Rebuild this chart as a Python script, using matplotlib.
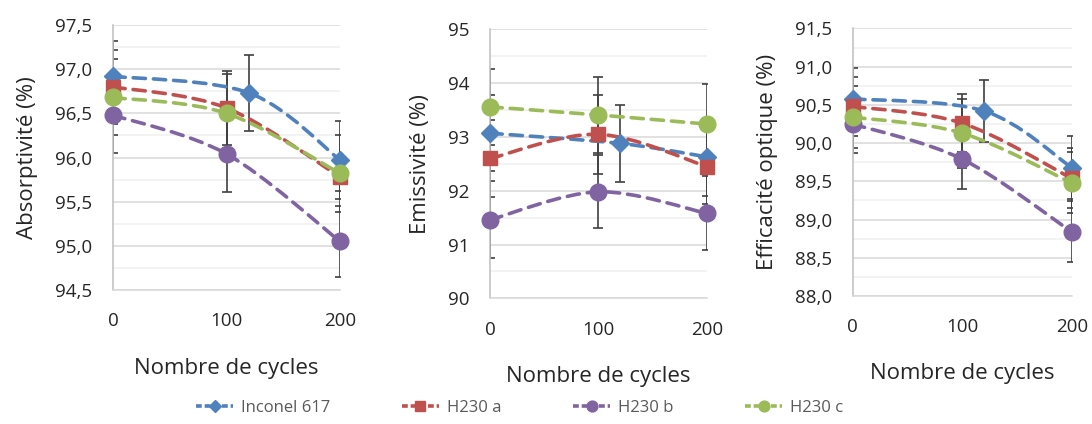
import numpy as np
import matplotlib
matplotlib.use("Agg")
import matplotlib.pyplot as plt
from matplotlib.path import Path
from matplotlib.patches import PathPatch
from matplotlib.lines import Line2D
from matplotlib.ticker import MultipleLocator, FuncFormatter

plt.rcParams["font.family"] = ["Open Sans", "DejaVu Sans"]

# --- Données ---
series = ["Inconel 617", "H230 a", "H230 b", "H230 c"]
x_inconel = [0, 120, 200]
x_h230 = [0, 100, 200]

absorp = {
    "Inconel 617": [96.92, 96.73, 95.97],
    "H230 a": [96.80, 96.56, 95.78],
    "H230 b": [96.48, 96.04, 95.05],
    "H230 c": [96.68, 96.50, 95.82],
}
absorp_err = {
    "Inconel 617": [0.40, 0.43, 0.44],
    "H230 a": [0.42, 0.42, 0.16],
    "H230 b": [0.43, 0.43, 0.40],
    "H230 c": [0.43, 0.44, 0.44],
}

emiss = {
    "Inconel 617": [93.07, 92.88, 92.63],
    "H230 a": [92.60, 93.05, 92.45],
    "H230 b": [91.46, 91.98, 91.58],
    "H230 c": [93.56, 93.41, 93.24],
}
emiss_err = {
    "Inconel 617": [0.71, 0.71, 0.73],
    "H230 a": [0.71, 0.74, 0.70],
    "H230 b": [0.72, 0.68, 0.69],
    "H230 c": [0.71, 0.71, 0.74],
}

effic = {
    "Inconel 617": [90.58, 90.42, 89.68],
    "H230 a": [90.48, 90.26, 89.54],
    "H230 b": [90.25, 89.79, 88.84],
    "H230 c": [90.34, 90.13, 89.48],
}
effic_err = {
    "Inconel 617": [0.40, 0.40, 0.41],
    "H230 a": [0.39, 0.38, 0.39],
    "H230 b": [0.38, 0.39, 0.40],
    "H230 c": [0.41, 0.45, 0.40],
}

colors = {"Inconel 617": "#4F81BD", "H230 a": "#C0504D",
          "H230 b": "#8064A2", "H230 c": "#9BBB59"}
markers = {"Inconel 617": ("D", 9), "H230 a": ("s", 10.5),
           "H230 b": ("o", 12), "H230 c": ("o", 12)}


def smooth_path(x, y):
    # courbe lissée façon Excel (Catmull-Rom -> Bézier cubique)
    pts = np.column_stack([x, y]).astype(float)
    n = len(pts)
    verts, codes = [pts[0]], [Path.MOVETO]
    for i in range(n - 1):
        p0, p1 = pts[max(i - 1, 0)], pts[i]
        p2, p3 = pts[i + 1], pts[min(i + 2, n - 1)]
        verts += [p1 + (p2 - p0) / 6, p2 - (p3 - p1) / 6, p2]
        codes += [Path.CURVE4] * 3
    return Path(verts, codes)


def comma(v, pos, nd):
    return f"{v:.{nd}f}".replace(".", ",")


fig = plt.figure(figsize=(10.92, 4.24), dpi=100)
panels = [
    ([0.1035, 0.316, 0.208, 0.625], absorp, absorp_err, (94.5, 97.5), 0.5, 0.25, 1,
     "Absorptivité (%)", 20),
    ([0.4487, 0.2965, 0.1987, 0.634], emiss, emiss_err, (90, 95), 1, 0.5, 0,
     "Emissivité (%)", 20),
    ([0.7809, 0.3019, 0.2005, 0.631], effic, effic_err, (88, 91.5), 0.5, 0.25, 1,
     "Efficacité optique (%)", 19),
]

for rect, data, err, ylim, major, minor, nd, ylabel, xlpad in panels:
    ax = fig.add_axes(rect)
    for name in series:
        xs = x_inconel if name == "Inconel 617" else x_h230
        c = colors[name]
        ax.errorbar(xs, data[name], yerr=err[name], fmt="none", ecolor="#404040",
                    elinewidth=1.2, capsize=3.3, capthick=1.2, zorder=2)
        patch = PathPatch(smooth_path(xs, data[name]), fill=False, edgecolor=c,
                          lw=2.6, linestyle=(0, (3.4, 2.2)), capstyle="round",
                          zorder=3)
        ax.add_patch(patch)
        m, ms = markers[name]
        ax.plot(xs, data[name], ls="none", marker=m, ms=ms, color=c,
                clip_on=False, zorder=4)

    ax.set_xlim(0, 200)
    ax.set_ylim(*ylim)
    ax.set_xticks([0, 100, 200])
    ax.yaxis.set_major_locator(MultipleLocator(major))
    ax.yaxis.set_minor_locator(MultipleLocator(minor))
    ax.yaxis.set_major_formatter(FuncFormatter(lambda v, p, nd=nd: comma(v, p, nd)))
    ax.grid(axis="y", which="major", color="#D9D9D9", lw=1.1)
    ax.grid(axis="y", which="minor", color="#F0F0F0", lw=1.1)
    ax.set_axisbelow(True)
    for s in ["top", "right"]:
        ax.spines[s].set_visible(False)
    ax.spines["left"].set_color("#BFBFBF")
    ax.spines["left"].set_linewidth(1.1)
    ax.spines["bottom"].set_color("#D9D9D9")
    ax.spines["bottom"].set_linewidth(1.1)
    ax.tick_params(axis="both", which="both", length=0, labelsize=13.5,
                   colors="#262626")
    ax.tick_params(axis="x", pad=16)
    ax.tick_params(axis="y", pad=15)
    ax.set_xlabel("Nombre de cycles", fontsize=16, color="#262626", labelpad=xlpad)
    ax.set_ylabel(ylabel, fontsize=16, color="#262626", labelpad=12)

handles = []
for name in series:
    m, ms = markers[name]
    handles.append(Line2D([], [], color=colors[name], lw=2.6, ls=(0, (1.6, 0.8)),
                          marker=m, ms=ms * 0.65))
fig.legend(handles, series, loc="center", bbox_to_anchor=(0.476, 0.038), ncol=4,
           frameon=False, fontsize=12, labelcolor="#595959", handlelength=2.2,
           columnspacing=4.3, handletextpad=0.5)

fig.savefig("out.png", dpi=100)
